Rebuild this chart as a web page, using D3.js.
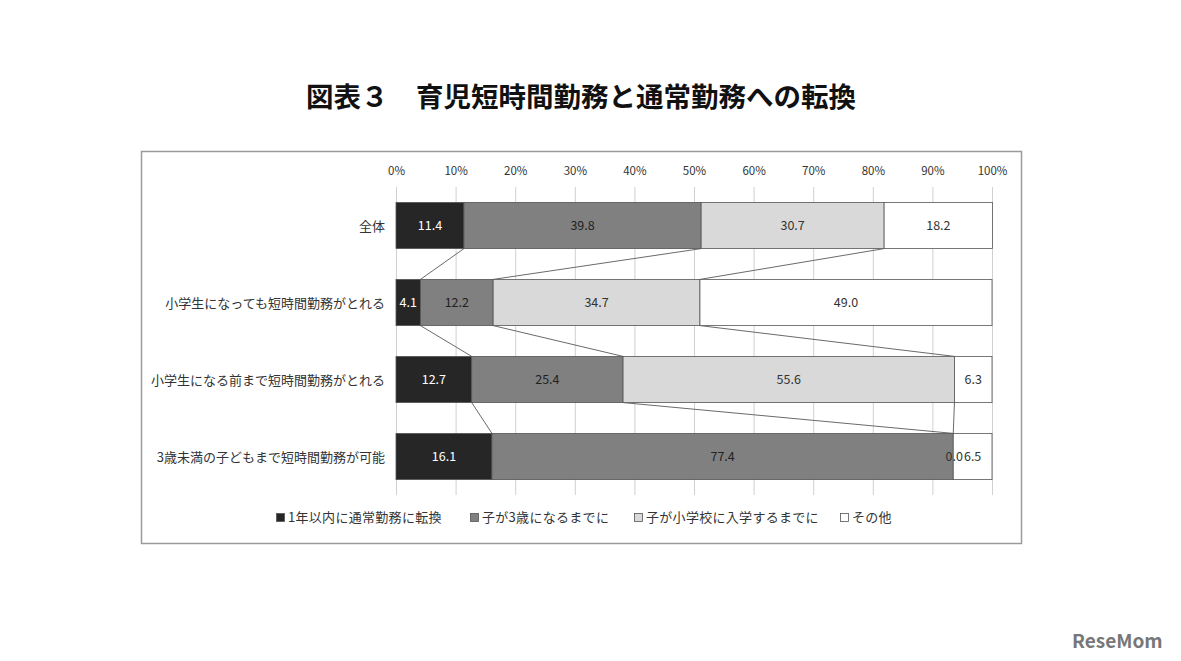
<!DOCTYPE html>
<html><head><meta charset="utf-8">
<script src="https://cdn.jsdelivr.net/npm/d3@7"></script>
<style>
body{margin:0;background:#fff;}
text{font-family:"Noto Sans CJK JP","Noto Sans",sans-serif;}
</style></head>
<body>
<svg id="c" width="1181" height="661"></svg>
<script>
const title = "図表３　育児短時間勤務と通常勤務への転換";
const categories = ["全体","小学生になっても短時間勤務がとれる","小学生になる前まで短時間勤務がとれる","3歳未満の子どもまで短時間勤務が可能"];
const seriesNames = ["1年以内に通常勤務に転換","子が3歳になるまでに","子が小学校に入学するまでに","その他"];
const s1 = [11.4, 4.1, 12.7, 16.1];
const s2 = [39.8, 12.2, 25.4, 77.4];
const s3 = [30.7, 34.7, 55.6, 0.0];
const s4 = [18.2, 49.0, 6.3, 6.5];
const tickValues = [0,10,20,30,40,50,60,70,80,90,100];
const colors = ["#262626","#808080","#d9d9d9","#ffffff"];
const labelColors = ["#ffffff","#222222","#333333","#333333"];

const series = [s1,s2,s3,s4];
const svg = d3.select("#c");

// title
svg.append("text").attr("x",581).attr("y",107).attr("text-anchor","middle")
  .attr("font-size",27.5).attr("font-weight","bold").attr("fill","#111").text(title);

// frame
svg.append("rect").attr("x",141.5).attr("y",151.5).attr("width",880).attr("height",392)
  .attr("fill","#fff").attr("stroke","#9a9a9a").attr("stroke-width",1.5);

const x = d3.scaleLinear().domain([0,100]).range([396,992]);
const y = d3.scaleBand().domain(categories).range([187,495]).paddingInner(0.4).paddingOuter(0.2);

// gridlines
svg.append("g").selectAll("line").data(tickValues).join("line")
  .attr("x1",d=>x(d)+0.5).attr("x2",d=>x(d)+0.5).attr("y1",187).attr("y2",495)
  .attr("stroke","#d0d0d0").attr("stroke-width",1);

// top axis labels
const ax = svg.append("g").attr("transform","translate(0,175)")
  .call(d3.axisTop(x).tickValues(tickValues).tickFormat(d=>d+"%").tickSize(0).tickPadding(0));
ax.select(".domain").remove();
ax.selectAll("text").attr("font-size",11.5).attr("fill","#333").attr("font-family","'Noto Sans','DejaVu Sans',sans-serif");

// stacked
const rows = categories.map((c,i)=>{
  let acc=0;
  return series.map((s,k)=>{const r={cat:c,k,v:s[i],x0:acc,x1:acc+s[i]};acc+=s[i];return r;});
});

// connector lines
const conn = [];
for(let i=0;i<categories.length-1;i++){
  for(let k=0;k<3;k++){
    conn.push({xa:rows[i][k].x1, ya:y(categories[i])+y.bandwidth(), xb:rows[i+1][k].x1, yb:y(categories[i+1])});
  }
}
svg.append("g").selectAll("line").data(conn).join("line")
  .attr("x1",d=>x(d.xa)).attr("y1",d=>d.ya).attr("x2",d=>x(d.xb)).attr("y2",d=>d.yb)
  .attr("stroke","#6a6a6a").attr("stroke-width",1);

const g = svg.append("g");
rows.forEach(r=>{
  g.selectAll(null).data(r).join("rect")
    .attr("x",d=>x(d.x0)).attr("width",d=>x(d.x1)-x(d.x0))
    .attr("y",d=>y(d.cat)).attr("height",y.bandwidth())
    .attr("fill",d=>colors[d.k]).attr("stroke","#555").attr("stroke-width",0.8);
  g.selectAll(null).data(r).join("text")
    .attr("x",d=>d.v===0? x(d.x0)+1 : x((d.x0+d.x1)/2))
    .attr("y",d=>y(d.cat)+y.bandwidth()/2+4.5)
    .attr("text-anchor","middle")
    .attr("font-size",12.5).attr("fill",d=>labelColors[d.k])
    .attr("font-family","'Noto Sans','DejaVu Sans',sans-serif")
    .text(d=>d.v.toFixed(1));
});

// category labels
svg.append("g").selectAll("text").data(categories).join("text")
  .attr("x",385).attr("y",d=>y(d)+y.bandwidth()/2+5)
  .attr("text-anchor","end").attr("font-size",13).attr("fill","#333").text(d=>d);

// legend
const legX = [276, 470, 634, 840];
const lg = svg.append("g").selectAll("g").data(seriesNames).join("g")
  .attr("transform",(d,i)=>`translate(${legX[i]},522)`);
lg.append("rect").attr("x",0.5).attr("y",-8.5).attr("width",8).attr("height",8)
  .attr("fill",(d,i)=>colors[i]).attr("stroke","#555").attr("stroke-width",0.8);
lg.append("text").attr("x",12).attr("y",0).attr("font-size",13).attr("letter-spacing",0.3).attr("fill","#333").text(d=>d);

// logo
svg.append("text").attr("x",1072).attr("y",648).attr("font-size",19).attr("font-weight","bold")
  .attr("fill","#777").attr("font-family","'Open Sans','DejaVu Sans',sans-serif").text("ReseMom");
</script>
</body></html>
